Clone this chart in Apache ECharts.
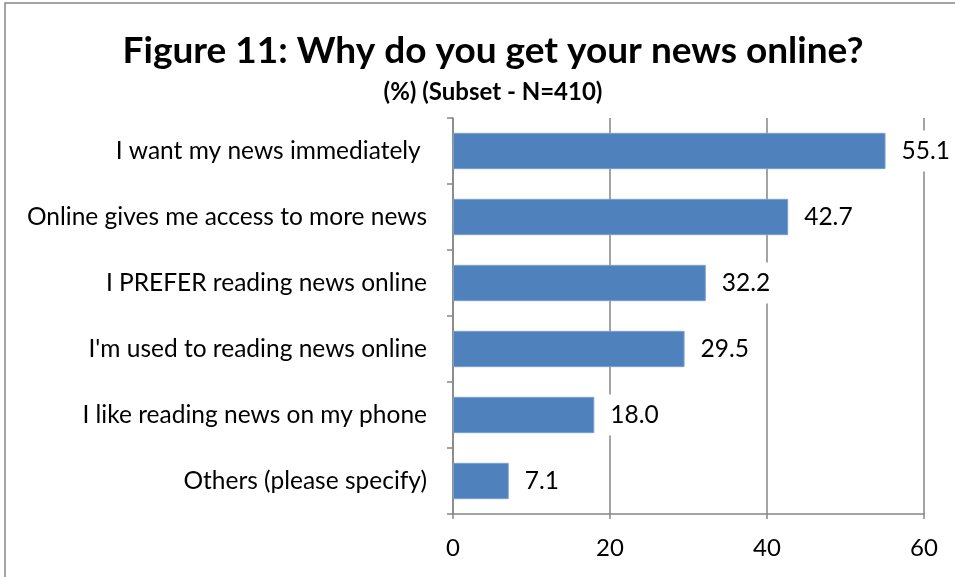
<!DOCTYPE html>
<html>
<head>
<meta charset="utf-8">
<script src="https://cdn.jsdelivr.net/npm/echarts@6/dist/echarts.min.js"></script>
<style>
  html, body { margin: 0; padding: 0; background: #fff; }
  #chart { width: 955px; height: 577px; }
</style>
</head>
<body>
<div id="chart"></div>
<script>
// Reasons for reading news online (% of respondents, subset N=410)
const categories = [
  'I want my news immediately ',
  'Online gives me access to more news',
  'I PREFER reading news online',
  "I'm used to reading news online",
  'I like reading news on my phone',
  'Others (please specify)'
];
const values = [55.1, 42.7, 32.2, 29.5, 18.0, 7.1];
const xTicks = [0, 20, 40, 60];

const FONT = 'Lato';
const chart = echarts.init(document.getElementById('chart'));

chart.setOption({
  backgroundColor: '#fff',
  animation: false,
  title: [
    {
      text: 'Figure 11: Why do you get your news online?',
      left: 488, top: 28, textAlign: 'center',
      textStyle: { fontFamily: FONT, fontWeight: 'bold', fontSize: 37, color: '#000' }
    },
    {
      text: '(%) (Subset - N=410)',
      left: 488, top: 75, textAlign: 'center',
      textStyle: { fontFamily: FONT, fontWeight: 'bold', fontSize: 24, color: '#000' }
    }
  ],
  graphic: [{
    type: 'rect',
    shape: { x: 5, y: 3, width: 970, height: 600 },
    style: { fill: 'none', stroke: '#868686', lineWidth: 1.5 },
    silent: true
  }],
  grid: { left: 453, top: 118, right: 31, bottom: 63, containLabel: false },
  xAxis: {
    type: 'value',
    min: xTicks[0],
    max: xTicks[xTicks.length - 1],
    interval: 20,
    axisLine: { show: true, lineStyle: { color: '#868686', width: 1.5 } },
    axisTick: { show: true, length: 5, lineStyle: { color: '#868686', width: 1.5 } },
    splitLine: { show: true, lineStyle: { color: '#868686', width: 1.5 } },
    axisLabel: { fontFamily: FONT, fontSize: 24, color: '#000', margin: 22,
      formatter: v => xTicks.includes(v) ? String(v) : '' }
  },
  yAxis: {
    type: 'category',
    data: categories,
    inverse: true,
    axisLine: { show: true, lineStyle: { color: '#868686', width: 1.5 } },
    axisTick: { show: true, length: 6, lineStyle: { color: '#868686', width: 1.5 } },
    axisLabel: { fontFamily: FONT, fontSize: 24.5, color: '#000', margin: 26 }
  },
  series: [{
    type: 'bar',
    data: values,
    barCategoryGap: '45%',
    itemStyle: { color: '#4F81BD', borderColor: '#7A9FD0', borderWidth: 1 },
    label: {
      show: true,
      position: 'right',
      distance: 12,
      formatter: p => p.value.toFixed(1),
      fontFamily: FONT, fontSize: 24.5, color: '#000',
      backgroundColor: '#fff',
      padding: [8, 4]
    }
  }]
});
</script>
</body>
</html>
